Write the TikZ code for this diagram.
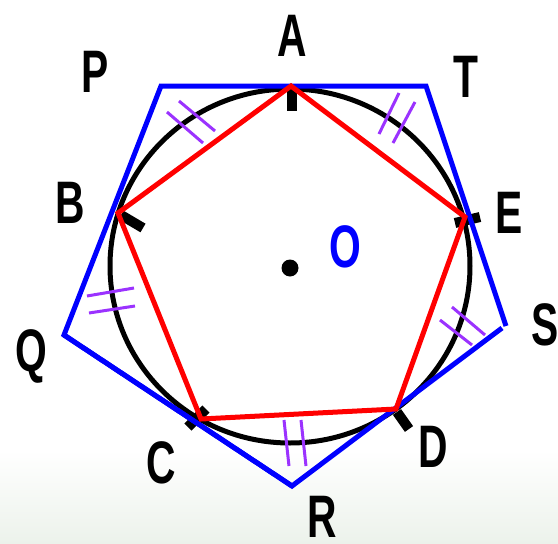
\documentclass[tikz,border=0pt]{standalone}
\usepackage{fontspec}
\setmainfont{Liberation Sans}
\definecolor{tickpurple}{RGB}{155,50,255}
\definecolor{bgbottom}{RGB}{236,242,235}
\newcommand{\lbl}[1]{\scalebox{0.68}[1]{#1}}
\begin{document}
\begin{tikzpicture}[x=1pt,y=-1pt,
  lab/.style={font=\fontsize{60}{60}\selectfont\bfseries, inner sep=0pt, anchor=base},
  circ/.style={draw=black, line width=5pt},
  stub/.style={draw=black, line width=10pt},
  outer/.style={draw=blue, line width=5pt},
  inner/.style={draw=red, line width=5pt, line join=miter},
  eqtick/.style={draw=tickpurple, line width=3pt}]
\useasboundingbox (0,0) rectangle (558,544);
\fill[white] (0,0) rectangle (558,544);
\shade[top color=white, bottom color=bgbottom] (0,450) rectangle (558,544);

% tangent points (red pentagon)
\coordinate (A) at (291,86);
\coordinate (B) at (118,213);
\coordinate (C) at (201,419);
\coordinate (D) at (396,409);
\coordinate (E) at (465,217);
% outer pentagon
\coordinate (P) at (161,86);
\coordinate (T) at (426,86);
\coordinate (S1) at (506,326);
\coordinate (S2) at (502,328);
\coordinate (R) at (292,486);
\coordinate (Q) at (64,335);
\coordinate (O) at (290,268);

% circle
\draw[circ] (290,266) ellipse [x radius=180, y radius=177];

% black stubs
\coordinate (sA1) at (292,86);  \coordinate (sA2) at (292,111);
\coordinate (sB1) at (121,215); \coordinate (sB2) at (143,228);
\coordinate (sE1) at (455,223); \coordinate (sE2) at (480,217);
\coordinate (sC1) at (188,427); \coordinate (sC2) at (206,409);
\coordinate (sD1) at (397,412); \coordinate (sD2) at (409,429);
\draw[stub] (sA1) -- (sA2);
\draw[stub] (sB1) -- (sB2);
\draw[stub] (sE1) -- (sE2);
\draw[stub] (sC1) -- (sC2);
\draw[stub] (sD1) -- (sD2);

% purple equal-length ticks
\coordinate (p1a) at (167,112); \coordinate (p1b) at (203,143);
\coordinate (p2a) at (179,101); \coordinate (p2b) at (215,131);
\coordinate (t1a) at (379,134); \coordinate (t1b) at (399,93);
\coordinate (t2a) at (393,143); \coordinate (t2b) at (415,102);
\coordinate (q1a) at (87,296);  \coordinate (q1b) at (134,288);
\coordinate (q2a) at (89,313);  \coordinate (q2b) at (135,306);
\coordinate (s1a) at (440,320); \coordinate (s1b) at (472,345);
\coordinate (s2a) at (452,307); \coordinate (s2b) at (485,335);
\coordinate (r1a) at (284,420); \coordinate (r1b) at (289,466);
\coordinate (r2a) at (301,420); \coordinate (r2b) at (306,466);
\foreach \a/\b in {p1a/p1b,p2a/p2b,t1a/t1b,t2a/t2b,q1a/q1b,q2a/q2b,s1a/s1b,s2a/s2b,r1a/r1b,r2a/r2b}
  \draw[eqtick] (\a) -- (\b);

% outer (blue) polygon
\draw[outer] (R) -- (Q) -- (P) -- (T) -- (S1);
\draw[outer] (S2) -- (R) -- (Q);

% inner (red) pentagon
\draw[inner] (A) -- (B) -- (C) -- (D) -- (E) -- cycle;

% centre dot
\fill[black] (O) circle [radius=8.5];

% labels
\node[lab] (lA) at (292.5,56) {\lbl{A}};
\node[lab] (lP) at (95,92) {\lbl{P}};
\node[lab] (lT) at (466,97) {\lbl{T}};
\node[lab] (lB) at (70,223) {\lbl{B}};
\node[lab] (lE) at (509,233) {\lbl{E}};
\node[lab, text=blue] (lO) at (345,267) {\lbl{O}};
\node[lab] (lQ) at (31,371) {\lbl{Q}};
\node[lab] (lS) at (545,345) {\lbl{S}};
\node[lab] (lC) at (161,483) {\lbl{C}};
\node[lab] (lD) at (433,467) {\lbl{D}};
\node[lab] (lR) at (322,537) {\lbl{R}};
\end{tikzpicture}
\end{document}
